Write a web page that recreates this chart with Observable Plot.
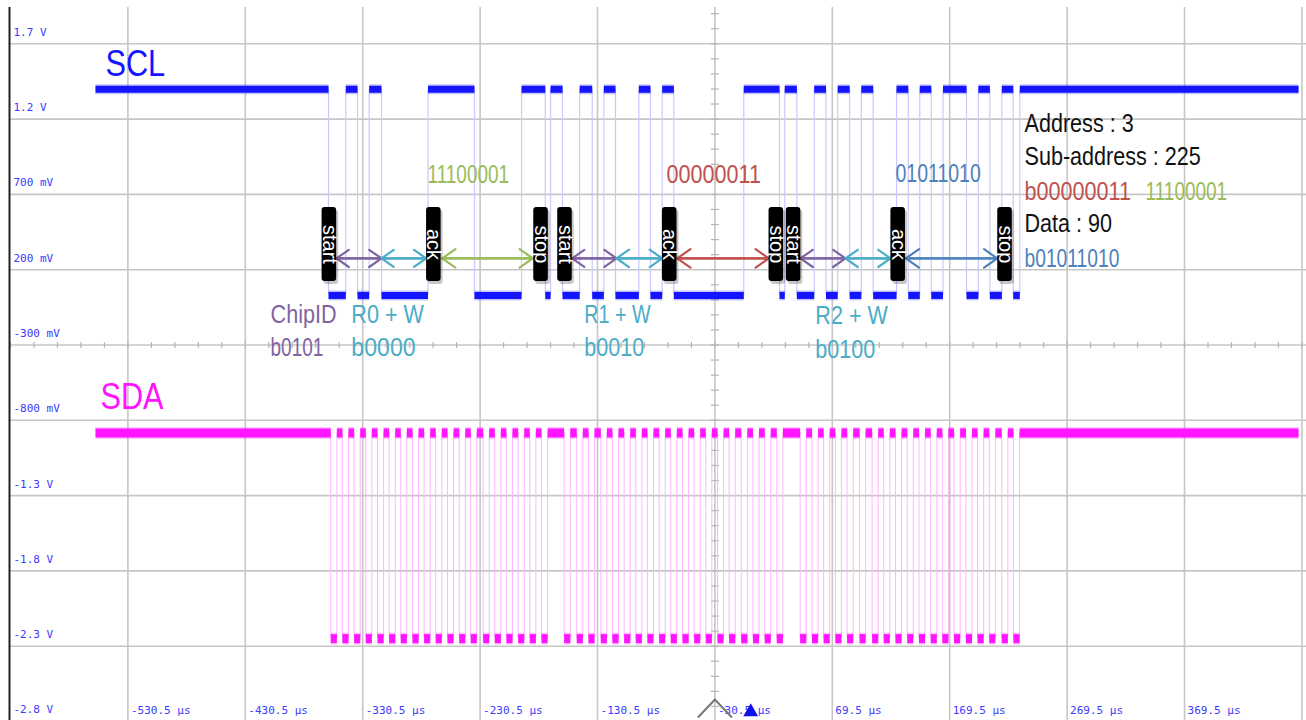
<!DOCTYPE html>
<html><head><meta charset="utf-8">
<script src="https://cdn.jsdelivr.net/npm/d3@7"></script>
<script src="https://cdn.jsdelivr.net/npm/@observablehq/plot@0.6"></script>
<style>
html,body{margin:0;padding:0;background:#fff;}
#chart{width:1306px;height:720px;overflow:hidden;}
</style></head><body><div id="chart"></div>
<script>
// ---- axis ticks (time in µs, voltage in V) ----
const xTicks = [-530.5, -430.5, -330.5, -230.5, -130.5, -30.5, 69.5, 169.5, 269.5, 369.5];
const xTickLabels = ["-530.5 µs","-430.5 µs","-330.5 µs","-230.5 µs","-130.5 µs","-30.5 µs","69.5 µs","169.5 µs","269.5 µs","369.5 µs"];
const xGridExtra = [469.5];
const yTicks = [1.7, 1.2, 0.7, 0.2, -0.3, -0.8, -1.3, -1.8, -2.3, -2.8];
const yTickLabels = ["1.7 V","1.2 V","700 mV","200 mV","-300 mV","-800 mV","-1.3 V","-1.8 V","-2.3 V","-2.8 V"];
const xCenter = -30.5, yCenter = -0.3, triggerTime = 0;

// ---- traces ----
const traceStart = -558.1, traceEnd = 466.6;
const sclHigh = 1.398, sclLow = 0.029;
// SCL transition times (µs), starting high
const sclEdges = [-359.6, -344.9, -334.9, -325.0, -314.5, -274.9, -235.3, -195.2, -175.0, -170.5,
  -160.3, -145.7, -135.0, -125.1, -115.2, -95.3, -85.4, -75.4, -65.5, -5.9,
  24.5, 29.0, 39.3, 54.1, 64.1, 74.1, 84.3, 94.2, 104.3, 124.2,
  134.2, 144.0, 153.8, 163.8, 183.8, 193.9, 203.7, 213.9, 223.6, 229.2];
const sdaHigh = -0.884, sdaLow = -2.25;
// centres of SDA low pulses (µs)
const sdaLowPulses = [-355.1, -345.2, -335.2, -325.3, -315.3, -305.4, -295.5, -285.5, -275.6, -265.7,
  -255.7, -245.7, -235.9, -225.3, -215.4, -205.5, -195.5, -185.6, -175.6, -156.3,
  -145.6, -135.6, -125.1, -115.2, -105.2, -95.3, -85.4, -75.4, -65.5, -55.5,
  -45.6, -35.7, -25.7, -15.8, -5.5, 4.5, 14.5, 24.8, 44.7, 54.8,
  64.7, 74.7, 84.7, 95.3, 106.0, 115.9, 125.9, 135.9, 145.9, 155.9,
  165.8, 175.8, 185.9, 195.8, 205.8, 216.4, 226.4];
const sdaPulseWidth = 5.2;

// ---- protocol annotations ----
const frameNames = ["start","ack","stop","start","ack","stop","start","ack","stop"];
const frameTimes = [-358.9, -269.9, -178.6, -158.2, -69.0, 21.8, 36.5, 125.6, 216.6];
const arrowFrom = [-352.8, -314.5, -262.8, -152.1, -114.3, -62.6, 42.4, 80.7, 132.1];
const arrowTo   = [-314.5, -276.4, -185.6, -114.3, -75.4, 15.4, 80.7, 119.1, 210.0];
const arrowKind = ["purple","aqua","green","purple","aqua","red","purple","aqua","blue"];

const annotTexts = ["11100001","00000011","01011010","Address : 3","Sub-address : 225","b00000011","11100001","Data : 90","b01011010",
  "ChipID","b0101","R0 + W","b0000","R1 + W","b0010","R2 + W","b0100"];
const annotT = [-275.3, -71.7, 123.3, 233.2, 233.2, 233.2, 336.3, 233.2, 233.2,
  -409.0, -409.0, -340.2, -340.2, -141.7, -141.7, 55.0, 55.0];
const annotV = [0.776, 0.776, 0.78, 1.111, 0.892, 0.666, 0.666, 0.447, 0.215,
  -0.151, -0.370, -0.151, -0.370, -0.151, -0.370, -0.158, -0.384];
const annotKind = ["green","red","blue","black","black","red","green","black","blue",
  "purple","purple","aqua","aqua","aqua","aqua","aqua","aqua"];

const traceNames = ["SCL","SDA"];
const traceLabelT = [-549.6, -553.9];
const traceLabelV = [1.489, -0.728];

// ---- styles ----
const palette = {green:"#9bbb59", red:"#c0504d", blue:"#4f81bd", black:"#111111", purple:"#8064a2", aqua:"#4bacc6"};
const traceColor = {SCL:"#1414ff", SDA:"#ff14ff"};
const sans = "'Liberation Sans',Arial,sans-serif";
const mono = "'DejaVu Sans Mono','Liberation Mono',monospace";
// horizontal condensing of the label font (the original uses a narrow face)
const squeezeDefault = 0.83;
const squeezeByText = {"11100001":0.73, "01011010":0.75, "b01011010":0.74, "b0101":0.73, "R1 + W":0.76, "b0000":0.89};

function segments(edges, lo, hi) {
  const pts = [traceStart, ...edges, traceEnd];
  const out = [];
  for (let i = 0; i < pts.length - 1; i++) out.push({x1: pts[i], x2: pts[i + 1], v: i % 2 === 0 ? hi : lo});
  return out;
}
const sclSegs = segments(sclEdges, sclLow, sclHigh);
const sdaEdges = sdaLowPulses.flatMap(c => [c - sdaPulseWidth / 2, c + sdaPulseWidth / 2]);
const sdaSegs = segments(sdaEdges, sdaLow, sdaHigh);

const frames = frameNames.map((n, i) => ({n, t: frameTimes[i]}));
const arrows = arrowFrom.map((a, i) => ({a, b: arrowTo[i], c: palette[arrowKind[i]]}));
const annots = annotTexts.map((s, i) => ({s, t: annotT[i], v: annotV[i], c: palette[annotKind[i]]}));
const traceLabels = traceNames.map((s, i) => ({s, t: traceLabelT[i], v: traceLabelV[i], c: traceColor[s]}));
const xTickData = xTicks.map((t, i) => ({t, s: xTickLabels[i]}));
const yTickData = yTicks.map((v, i) => ({v, s: yTickLabels[i]}));

const yBottom = -2.7934, yTop = 1.941, xLeft = -630.5, xRight = 473.4;
const boxLo = 0.122, boxHi = 0.613, boxHalf = 6.2, arrowV = 0.275;

const hTick = {draw(ctx){ctx.moveTo(-4,0);ctx.lineTo(4,0);}};
const vTick = {draw(ctx){ctx.moveTo(0,-3);ctx.lineTo(0,3);}};
const chevron = {draw(ctx){ctx.moveTo(-17,18);ctx.lineTo(0,0);ctx.lineTo(17,18);}};

const vMinor = d3.range(-27, 20).map(k => k / 10);
const tMinor = d3.range(-630.5, 480, 20);

const chart = Plot.plot({
  width: 1306, height: 720,
  marginLeft: 10, marginRight: 0, marginTop: 7, marginBottom: 0,
  x: {domain: [xLeft, xRight], axis: null},
  y: {domain: [yBottom, yTop], axis: null},
  marks: [
    Plot.ruleX([...xTicks, ...xGridExtra], {stroke: "#c6c6c6", strokeWidth: 1.6}),
    Plot.ruleY(yTicks, {stroke: "#c6c6c6", strokeWidth: 1.6}),
    Plot.dot(vMinor, {x: () => xCenter, y: d => d, symbol: hTick, stroke: "#b4b4b4", strokeWidth: 1.2, fill: "none"}),
    Plot.dot(tMinor, {x: d => d, y: () => yCenter, symbol: vTick, stroke: "#b4b4b4", strokeWidth: 1.2, fill: "none"}),
    Plot.ruleX([xLeft], {stroke: "#222", strokeWidth: 2, dx: -1}),
    // tick labels
    Plot.text(yTickData, {x: () => xLeft, y: "v", text: "s", dx: 3, dy: -8, textAnchor: "start", lineAnchor: "bottom", fill: "#3a3aff", fontSize: 11, fontFamily: mono}),
    Plot.text(xTickData, {x: "t", y: () => yBottom, text: "s", dx: 3, dy: -7, textAnchor: "start", lineAnchor: "bottom", fill: "#3a3aff", fontSize: 11, fontFamily: mono}),
    // transitions
    Plot.ruleX(sclEdges, {y1: sclLow, y2: sclHigh, stroke: "#c9c9ff", strokeWidth: 1.2}),
    Plot.ruleX(sdaEdges, {y1: sdaLow, y2: sdaHigh, stroke: "#ffb4ff", strokeWidth: 1}),
    // plateaus (halo + core)
    Plot.link(sclSegs, {x1: "x1", x2: "x2", y1: "v", y2: "v", stroke: traceColor.SCL, strokeWidth: 10, strokeOpacity: 0.25, strokeLinecap: "butt"}),
    Plot.link(sclSegs, {x1: "x1", x2: "x2", y1: "v", y2: "v", stroke: traceColor.SCL, strokeWidth: 7, strokeLinecap: "butt"}),
    Plot.link(sdaSegs, {x1: "x1", x2: "x2", y1: "v", y2: "v", stroke: traceColor.SDA, strokeWidth: 12, strokeOpacity: 0.25, strokeLinecap: "butt"}),
    Plot.link(sdaSegs, {x1: "x1", x2: "x2", y1: "v", y2: "v", stroke: traceColor.SDA, strokeWidth: 9, strokeLinecap: "butt"}),
    // trace names
    Plot.text(traceLabels, {x: "t", y: "v", text: "s", fill: "c", textAnchor: "start", lineAnchor: "bottom", fontSize: 37, fontFamily: sans}),
    // arrows (double headed)
    Plot.arrow(arrows, {x1: "a", x2: "b", y1: () => arrowV, y2: () => arrowV, stroke: "c", strokeWidth: 2.2, headLength: 11, headAngle: 70}),
    Plot.arrow(arrows, {x1: "b", x2: "a", y1: () => arrowV, y2: () => arrowV, stroke: "c", strokeWidth: 2.2, headLength: 11, headAngle: 70}),
    // frame boxes
    Plot.rect(frames, {x1: d => d.t - boxHalf, x2: d => d.t + boxHalf, y1: () => boxLo, y2: () => boxHi, fill: "#000", fillOpacity: 0.22, dx: 2, dy: 3, rx: 3}),
    Plot.rect(frames, {x1: d => d.t - boxHalf, x2: d => d.t + boxHalf, y1: () => boxLo, y2: () => boxHi, fill: "#000", rx: 3}),
    Plot.text(frames, {x: "t", y: () => (boxLo + boxHi) / 2, text: "n", rotate: 90, fill: "#fff", fontSize: 20, fontFamily: sans}),
    // annotations
    Plot.text(annots, {x: "t", y: "v", text: "s", fill: "c", textAnchor: "start", lineAnchor: "bottom", fontSize: 26, fontFamily: sans}),
    // center / trigger markers
    Plot.dot([xCenter], {x: d => d, y: () => -2.654, symbol: chevron, stroke: "#777", strokeWidth: 2, fill: "none"}),
    Plot.dot([triggerTime], {x: d => d, y: () => -2.736, symbol: "triangle", r: 5.5, fill: "#1010e8", stroke: "none"})
  ]
});
document.getElementById("chart").appendChild(chart);

// condense annotation and trace-name texts horizontally
const condensed = new Set([...annotTexts, ...traceNames]);
d3.select(chart).selectAll("text").each(function () {
  const s = this.textContent;
  if (!condensed.has(s)) return;
  const k = squeezeByText[s] ?? squeezeDefault;
  const w = this.getComputedTextLength();
  this.setAttribute("textLength", (w * k).toFixed(1));
  this.setAttribute("lengthAdjust", "spacingAndGlyphs");
});
</script></body></html>
